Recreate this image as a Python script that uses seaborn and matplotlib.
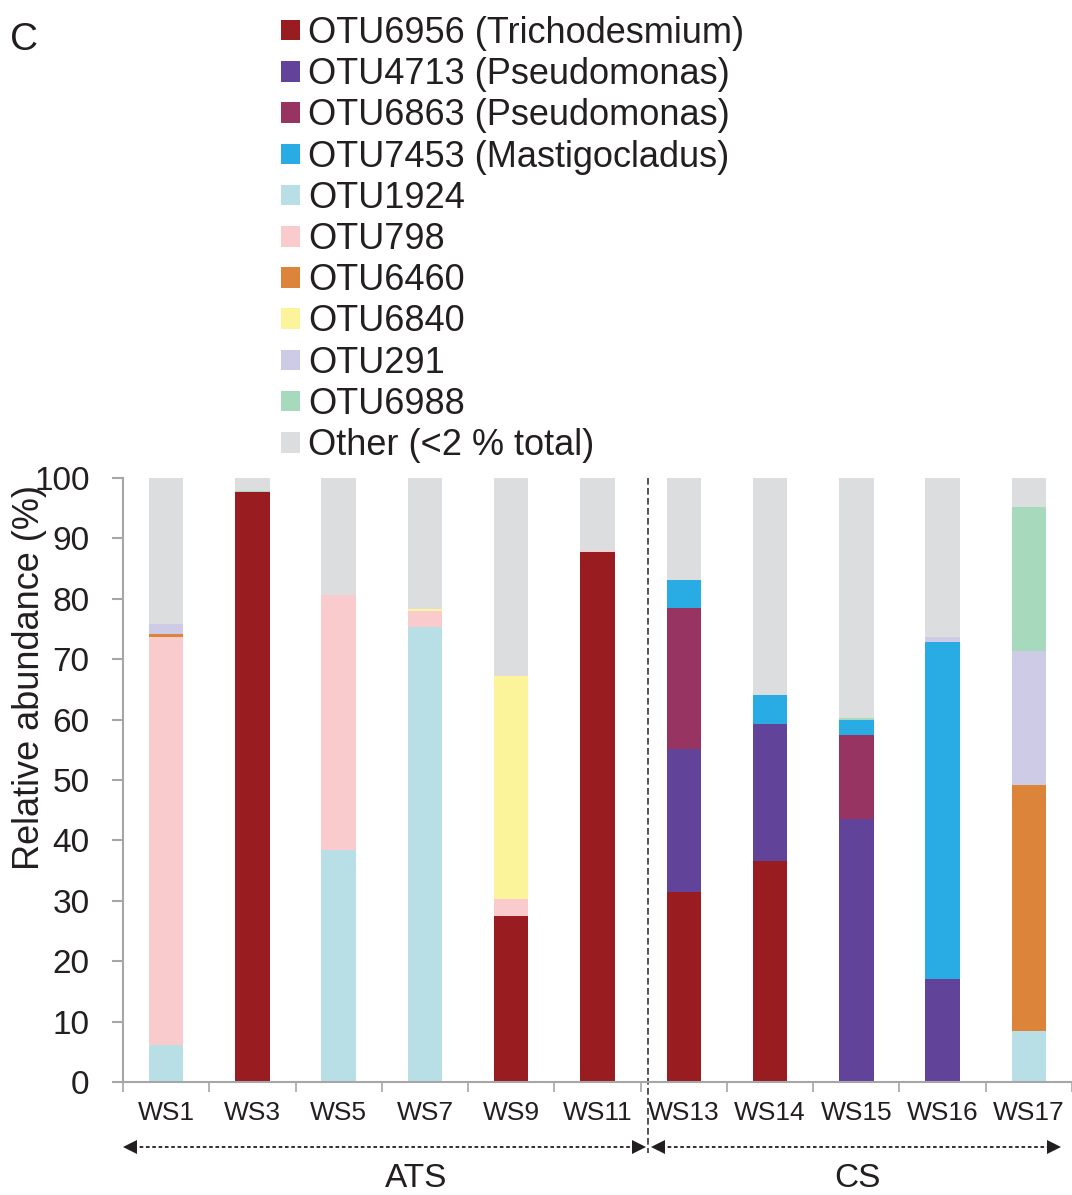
import matplotlib
matplotlib.use("Agg")
import matplotlib.pyplot as plt
from matplotlib.patches import Patch
import seaborn as sns
import numpy as np
import pandas as pd

samples = ["WS1", "WS3", "WS5", "WS7", "WS9", "WS11", "WS13", "WS14", "WS15", "WS16", "WS17"]
otus = ["OTU6956 (Trichodesmium)", "OTU4713 (Pseudomonas)", "OTU6863 (Pseudomonas)",
        "OTU7453 (Mastigocladus)", "OTU1924", "OTU798", "OTU6460", "OTU6840",
        "OTU291", "OTU6988", "Other (<2 % total)"]
colors = ["#981C20", "#62439A", "#983462", "#29ACE3", "#B9DFE6", "#F9CBCC",
          "#DD843B", "#FBF49B", "#CECBE6", "#A7D9BC", "#DCDDDF"]

# values per OTU (stack order bottom -> top), one entry per sample
otu6956 = [0, 97.6, 0, 0, 27.5, 87.7, 31.5, 36.6, 0, 0, 0]
otu4713 = [0, 0, 0, 0, 0, 0, 23.6, 22.7, 43.5, 17.1, 0]
otu6863 = [0, 0, 0, 0, 0, 0, 23.3, 0, 14.0, 0, 0]
otu7453 = [0, 0, 0, 0, 0, 0, 4.7, 4.7, 2.5, 55.8, 0]
otu1924 = [6.1, 0, 38.4, 75.4, 0, 0, 0, 0, 0, 0, 8.4]
otu798 = [67.6, 0, 42.3, 2.6, 2.8, 0.2, 0, 0, 0, 0, 0]
otu6460 = [0.4, 0, 0, 0, 0, 0, 0, 0, 0, 0, 40.8]
otu6840 = [0, 0, 0, 0.3, 37.0, 0, 0, 0, 0, 0, 0]
otu291 = [1.8, 0, 0, 0, 0, 0, 0, 0, 0, 0.7, 22.2]
otu6988 = [0, 0.2, 0, 0, 0, 0, 0, 0, 0.3, 0, 23.8]
other = [24.1, 2.2, 19.3, 21.7, 32.7, 12.1, 16.9, 36.0, 39.7, 26.4, 4.8]

series = [otu6956, otu4713, otu6863, otu7453, otu1924, otu798, otu6460,
          otu6840, otu291, otu6988, other]

sns.set_theme(style="white")
plt.rcParams["font.family"] = ["Liberation Sans", "DejaVu Sans"]
plt.rcParams["text.color"] = "#231F20"

W, H = 1072, 1195
fig = plt.figure(figsize=(W / 100, H / 100), dpi=100)
ax = fig.add_axes([123 / W, 1 - 1082 / H, (1072 - 123) / W, 604 / H])

bottom = np.zeros(len(samples))
for name, vals, col in zip(otus, series, colors):
    df = pd.DataFrame({"sample": samples, "value": vals})
    sns.barplot(data=df, x="sample", y="value", order=samples, color=col,
                width=0.4, bottom=bottom.copy(), ax=ax, errorbar=None,
                linewidth=0, saturation=1)
    bottom += np.array(vals)

ax.set_xlim(-0.5, 10.5)
ax.set_ylim(0, 100)
ax.set_xlabel("")
ax.set_ylabel("")
ax.set_yticks(np.arange(0, 101, 10))
ax.tick_params(axis="y", labelsize=24, length=8, width=1.5, color="#A6A6A6",
               pad=16, labelcolor="#231F20", left=True, direction="out")
ax.set_xticks(range(len(samples)))
ax.set_xticklabels(samples)
ax.tick_params(axis="x", which="major", labelsize=19, length=0, pad=14,
               labelcolor="#231F20")
ax.set_xticks(np.arange(-0.5, 10.6, 1), minor=True)
ax.tick_params(axis="x", which="minor", length=7.5, width=1.2,
               color="#A6A6A6", bottom=True, direction="out")
for s in ["top", "right"]:
    ax.spines[s].set_visible(False)
for s in ["left", "bottom"]:
    ax.spines[s].set_color("#A6A6A6")
    ax.spines[s].set_linewidth(1.5)

tr = ax.get_xaxis_transform()
# divider
xd = 5.59
ax.plot([xd, xd], [1.0, -0.117], transform=tr, ls=(0, (4, 2)),
        color="#333333", lw=1.2, clip_on=False)
# group arrows
ya = -0.1076
for x0, x1 in [(-0.5, xd - 0.03), (xd + 0.03, 10.37)]:
    ax.plot([x0 + 0.05, x1 - 0.05], [ya, ya], transform=tr, ls=(0, (2, 1.5)),
            color="#231F20", lw=1.3, clip_on=False)
    ax.plot([x0 + 0.08], [ya], transform=tr, marker="<", ms=10,
            color="#231F20", clip_on=False, mew=0)
    ax.plot([x1 - 0.08], [ya], transform=tr, marker=">", ms=10,
            color="#231F20", clip_on=False, mew=0)
ax.text(2.9, -0.159, "ATS", transform=tr, ha="center", va="center", fontsize=24)
ax.text(8.01, -0.159, "CS", transform=tr, ha="center", va="center", fontsize=24)

fig.text(30 / W, 1 - 677 / H, "Relative abundance (%)", rotation=90,
         fontsize=26, ha="center", va="center")
fig.text(10 / W, 1 - 40 / H, "C", fontsize=28, ha="left", va="center")

handles = [Patch(facecolor=c, edgecolor="none") for c in colors]
fig.legend(handles, otus, loc="upper left", bbox_to_anchor=(281 / W, 1 - 16 / H),
           frameon=False, fontsize=26, handlelength=0.53, handleheight=0.5,
           handletextpad=0.22, labelspacing=0.172, borderpad=0, borderaxespad=0)

fig.savefig("out.png", dpi=100)
